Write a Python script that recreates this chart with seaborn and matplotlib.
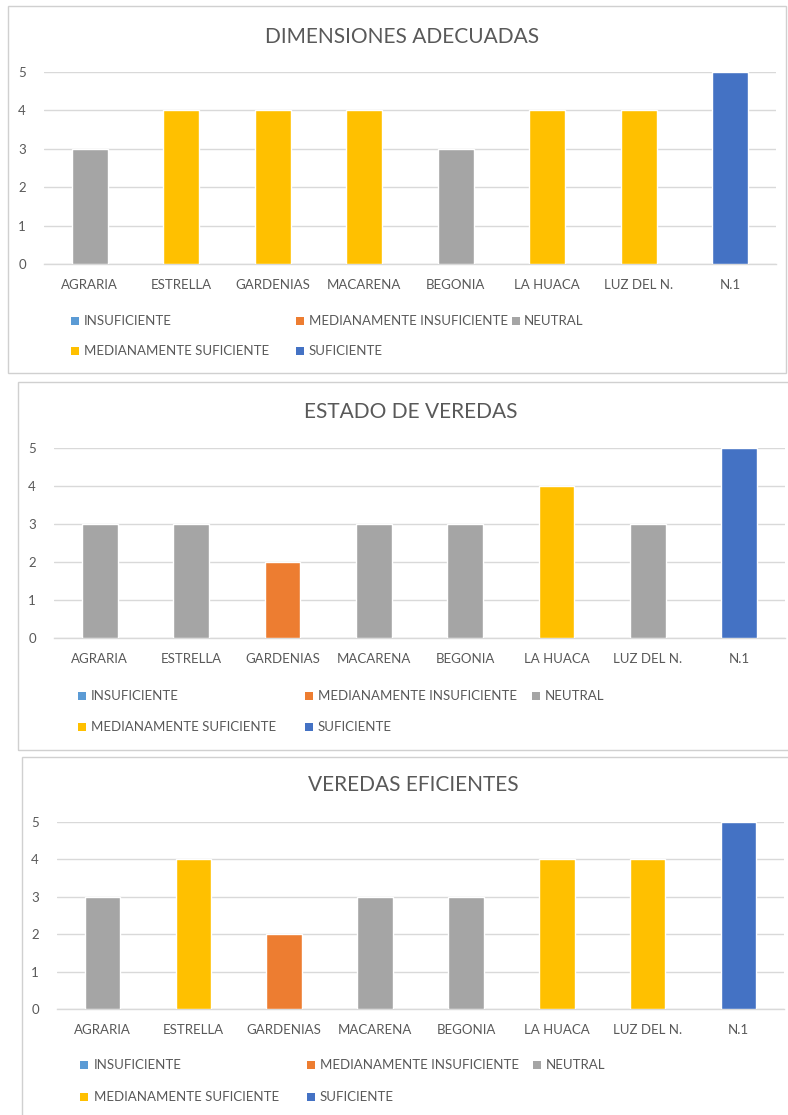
import matplotlib
matplotlib.use("Agg")
import matplotlib.pyplot as plt
from matplotlib.patches import Rectangle
import seaborn as sns

# ---- data ----
categories = ["AGRARIA", "ESTRELLA", "GARDENIAS", "MACARENA", "BEGONIA", "LA HUACA", "LUZ DEL N.", "N.1"]
dimensiones_adecuadas = [3, 4, 4, 4, 3, 4, 4, 5]
estado_de_veredas = [3, 3, 2, 3, 3, 4, 3, 5]
veredas_eficientes = [3, 4, 2, 3, 3, 4, 4, 5]
titles = ["DIMENSIONES ADECUADAS", "ESTADO DE VEREDAS", "VEREDAS EFICIENTES"]
levels = ["INSUFICIENTE", "MEDIANAMENTE INSUFICIENTE", "NEUTRAL",
          "MEDIANAMENTE SUFICIENTE", "SUFICIENTE"]
level_values = [1, 2, 3, 4, 5]
level_colors = ["#5B9BD5", "#ED7D31", "#A5A5A5", "#FFC000", "#4472C4"]
yticks = [0, 1, 2, 3, 4, 5]

sns.set_theme(style="white")
plt.rcParams['font.family'] = ['Lato', 'DejaVu Sans']

W, H = 788, 1115
fig = plt.figure(figsize=(W / 100, H / 100), dpi=100)
fig.patch.set_facecolor("white")

TXT = "#595959"
GRID = "#D9D9D9"


def fx(x):
    return x / W


def fy(y):
    return 1 - y / H


def px_axes(left, top, right, bottom):
    return fig.add_axes([fx(left), fy(bottom), (right - left) / W, (bottom - top) / H])


panels = [
    dict(vals=dimensiones_adecuadas, box=(8, 6, 786, 373), ax=(44, 72, 776, 264),
         title_xy=(402, 37),
         leg=[(75, 321, 84), (300, 321, 309), (516, 321, 524), (75, 351, 84), (300, 351, 309)]),
    dict(vals=estado_de_veredas, box=(18, 382, 800, 750), ax=(54, 448, 785, 638),
         title_xy=(411, 412),
         leg=[(82, 696, 91), (309, 696, 318), (536, 696, 545), (82, 727, 91), (309, 727, 318)]),
    dict(vals=veredas_eficientes, box=(22, 757, 800, 1125), ax=(57, 822, 784, 1009),
         title_xy=(413, 785),
         leg=[(84, 1065, 94), (311, 1065, 320), (537, 1065, 546), (84, 1097, 94), (311, 1097, 320)]),
]

for p, title in zip(panels, titles):
    bx0, by0, bx1, by1 = p["box"]
    fig.patches.append(Rectangle((fx(bx0), fy(by1)), (bx1 - bx0) / W, (by1 - by0) / H,
                                 transform=fig.transFigure, fill=False,
                                 edgecolor="#D0D0D0", lw=1.0, zorder=0))
    ax = px_axes(*p["ax"])
    vals = p["vals"]
    pal = {c: level_colors[level_values.index(v)] for c, v in zip(categories, vals)}
    sns.barplot(x=categories, y=vals, hue=categories, palette=pal, legend=False,
                width=0.39, saturation=1, ax=ax, zorder=3)
    ax.set_xlim(-0.5, len(categories) - 0.5)
    ax.set_ylim(0, 5)
    ax.set_yticks(yticks)
    ax.yaxis.grid(True, color=GRID, lw=1.0, zorder=0)
    ax.set_axisbelow(True)
    for s in ["top", "right", "left"]:
        ax.spines[s].set_visible(False)
    ax.spines["bottom"].set_color(GRID)
    ax.spines["bottom"].set_linewidth(1.0)
    ax.tick_params(axis="both", length=0, labelsize=9.5, colors=TXT)
    ax.tick_params(axis="x", pad=11)
    ax.tick_params(axis="y", pad=13)
    ax.set_xlabel("")
    ax.set_ylabel("")
    fig.text(fx(p["title_xy"][0]), fy(p["title_xy"][1]), title, ha="center", va="center",
             fontsize=15, color=TXT)
    for (mx, my, tx), lab, col in zip(p["leg"], levels, level_colors):
        s = 8
        fig.patches.append(Rectangle((fx(mx - s / 2), fy(my + s / 2)), s / W, s / H,
                                     transform=fig.transFigure, facecolor=col,
                                     edgecolor="none"))
        fig.text(fx(tx), fy(my), lab, ha="left", va="center", fontsize=9.5, color=TXT)

fig.savefig("out.png", dpi=100, facecolor="white")
